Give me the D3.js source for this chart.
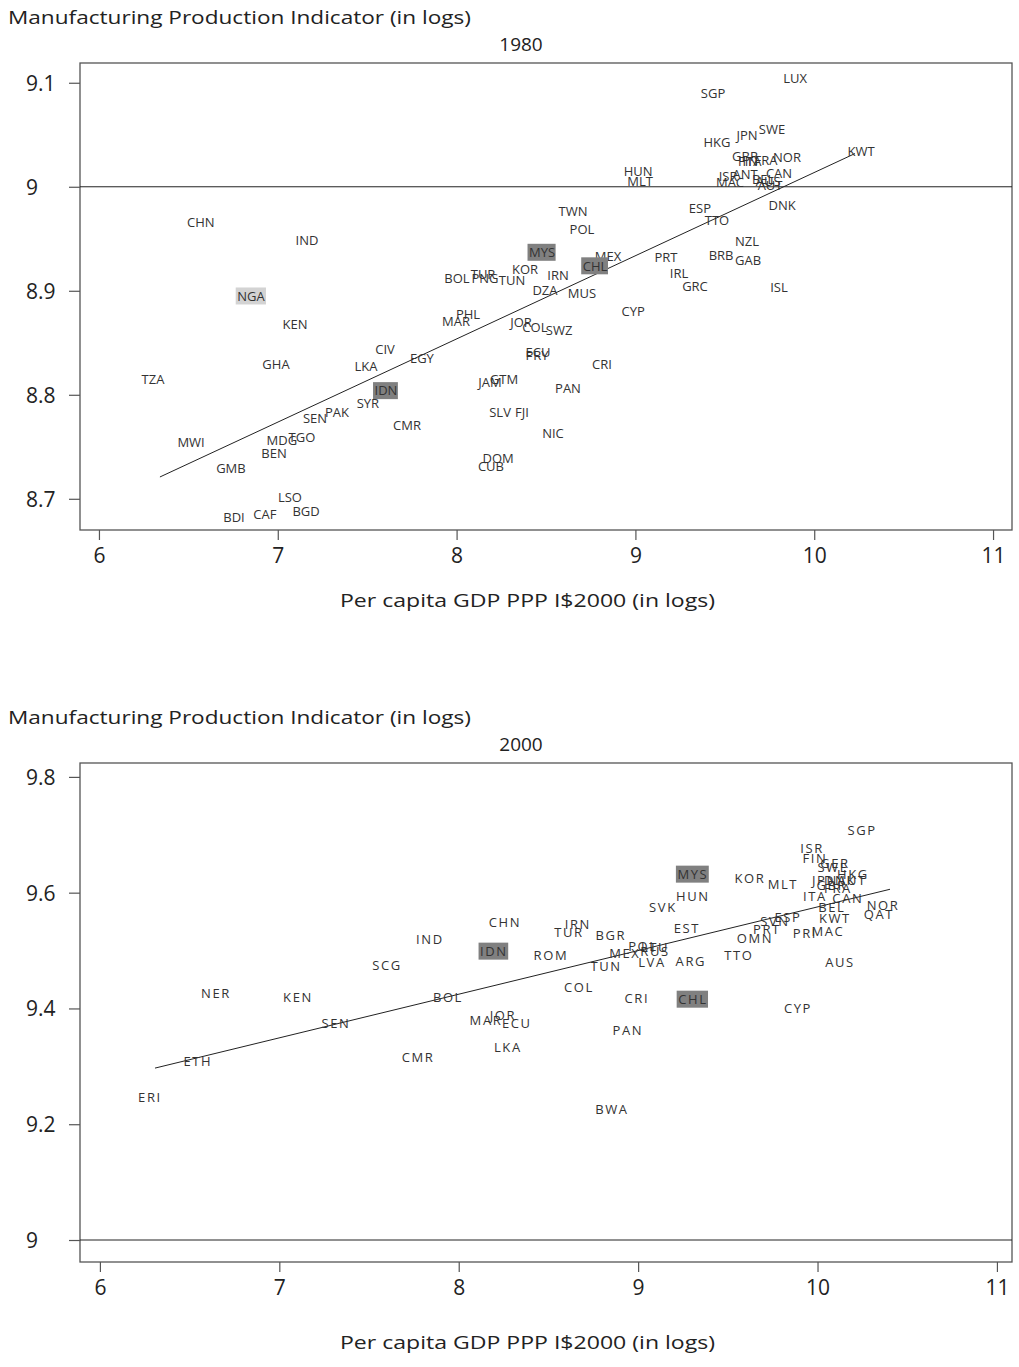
<!DOCTYPE html>
<html>
<head>
<meta charset="utf-8">
<script src="https://cdn.jsdelivr.net/npm/d3@7"></script>
<style>
  body { margin: 0; background: #fff; }
  svg { display: block; }
  .tick text { font-family: "Open Sans", sans-serif; font-size: 21px; fill: #222; }
  .code { font-family: "Open Sans", sans-serif; font-size: 13px; fill: #333; }
  .title { font-family: "Open Sans", sans-serif; font-size: 19px; fill: #222; }
</style>
</head>
<body>
<svg id="chart" width="1019" height="1367"></svg>
<script>
// [country, per capita GDP (log), manufacturing production indicator (log)]
const rows1980 = [
  ["LUX", 9.893, 9.104], ["SGP", 9.434, 9.090], ["HKG", 9.456, 9.043], ["JPN", 9.624, 9.049],
  ["SWE", 9.764, 9.055], ["GBR", 9.613, 9.029], ["FIN", 9.630, 9.024], ["ITA", 9.652, 9.024],
  ["FRA", 9.730, 9.025], ["NOR", 9.848, 9.028], ["KWT", 10.262, 9.034], ["HUN", 9.015, 9.015],
  ["MLT", 9.026, 9.005], ["ISR", 9.518, 9.010], ["ANT", 9.613, 9.012], ["CAN", 9.803, 9.013],
  ["MAC", 9.529, 9.004], ["BEL", 9.714, 9.007], ["AUS", 9.742, 9.005], ["AUT", 9.753, 9.001],
  ["DNK", 9.820, 8.982], ["ESP", 9.361, 8.979], ["TTO", 9.456, 8.968], ["NZL", 9.624, 8.948],
  ["BRB", 9.479, 8.934], ["GAB", 9.630, 8.929], ["ISL", 9.803, 8.903], ["PRT", 9.171, 8.932],
  ["IRL", 9.244, 8.917], ["GRC", 9.333, 8.904], ["CYP", 8.987, 8.880], ["TWN", 8.651, 8.976],
  ["POL", 8.701, 8.959], ["MYS", 8.478, 8.937], ["MEX", 8.847, 8.933], ["CHL", 8.774, 8.924],
  ["KOR", 8.383, 8.921], ["IRN", 8.567, 8.915], ["TUR", 8.148, 8.916], ["BOL", 8.002, 8.912],
  ["PNG", 8.159, 8.912], ["TUN", 8.310, 8.910], ["DZA", 8.494, 8.900], ["MUS", 8.701, 8.898],
  ["PHL", 8.064, 8.877], ["MAR", 7.997, 8.871], ["JOR", 8.360, 8.870], ["COL", 8.438, 8.865],
  ["SWZ", 8.573, 8.862], ["ECU", 8.455, 8.841], ["PRY", 8.450, 8.838], ["CRI", 8.813, 8.829],
  ["JAM", 8.187, 8.812], ["GTM", 8.265, 8.815], ["PAN", 8.623, 8.806], ["SLV", 8.243, 8.783],
  ["FJI", 8.366, 8.783], ["NIC", 8.539, 8.763], ["DOM", 8.232, 8.739], ["CUB", 8.192, 8.731],
  ["CHN", 6.570, 8.966], ["IND", 7.163, 8.949], ["NGA", 6.850, 8.895], ["KEN", 7.096, 8.868],
  ["CIV", 7.600, 8.844], ["EGY", 7.806, 8.835], ["LKA", 7.493, 8.827], ["GHA", 6.990, 8.829],
  ["TZA", 6.302, 8.815], ["IDN", 7.605, 8.804], ["SYR", 7.504, 8.792], ["PAK", 7.331, 8.783],
  ["SEN", 7.208, 8.777], ["CMR", 7.723, 8.771], ["MDG", 7.023, 8.756], ["TGO", 7.135, 8.759],
  ["MWI", 6.515, 8.754], ["BEN", 6.979, 8.744], ["GMB", 6.738, 8.729], ["LSO", 7.068, 8.701],
  ["BGD", 7.158, 8.688], ["CAF", 6.928, 8.685], ["BDI", 6.755, 8.682]
];

const rows2000 = [
  ["SGP", 10.248, 9.708], ["ISR", 9.969, 9.677], ["FIN", 9.986, 9.660], ["GER", 10.097, 9.651],
  ["SWE", 10.086, 9.643], ["HKG", 10.197, 9.631], ["JPN", 10.041, 9.622], ["DNK", 10.125, 9.622],
  ["AUT", 10.192, 9.622], ["GBR", 10.080, 9.612], ["FRA", 10.114, 9.608], ["ITA", 9.986, 9.594],
  ["CAN", 10.169, 9.591], ["NOR", 10.365, 9.579], ["QAT", 10.342, 9.562], ["BEL", 10.080, 9.574],
  ["KWT", 10.097, 9.555], ["ESP", 9.835, 9.558], ["SVN", 9.763, 9.551], ["PRT", 9.718, 9.536],
  ["PRI", 9.930, 9.529], ["MAC", 10.058, 9.534], ["OMN", 9.651, 9.522], ["TTO", 9.562, 9.491],
  ["AUS", 10.125, 9.480], ["KOR", 9.623, 9.624], ["MLT", 9.807, 9.615], ["MYS", 9.305, 9.632],
  ["HUN", 9.305, 9.593], ["SVK", 9.138, 9.575], ["EST", 9.272, 9.539], ["CYP", 9.891, 9.401],
  ["CHN", 8.258, 9.548], ["IND", 7.839, 9.520], ["IDN", 8.196, 9.499], ["SCG", 7.600, 9.475],
  ["IRN", 8.664, 9.546], ["TUR", 8.614, 9.532], ["BGR", 8.848, 9.527], ["ROM", 8.514, 9.491],
  ["POL", 9.027, 9.508], ["LTU", 9.094, 9.506], ["MEX", 8.926, 9.496], ["RUS", 9.094, 9.499],
  ["LVA", 9.077, 9.480], ["ARG", 9.294, 9.482], ["TUN", 8.821, 9.472], ["COL", 8.670, 9.437],
  ["CRI", 8.993, 9.418], ["CHL", 9.305, 9.416], ["BOL", 7.940, 9.420], ["JOR", 8.246, 9.389],
  ["MAR", 8.152, 9.380], ["ECU", 8.324, 9.375], ["PAN", 8.943, 9.363], ["LKA", 8.274, 9.333],
  ["BWA", 8.854, 9.226], ["NER", 6.647, 9.427], ["KEN", 7.104, 9.420], ["SEN", 7.316, 9.375],
  ["CMR", 7.773, 9.316], ["ETH", 6.546, 9.308], ["ERI", 6.279, 9.247]
];

const xTicks = [6, 7, 8, 9, 10, 11];
const yTicks1980 = [8.7, 8.8, 8.9, 9, 9.1];
const yTicks2000 = [9, 9.2, 9.4, 9.6, 9.8];

// fitted line: [x start, x end, intercept, slope]
const fit1980 = [6.341, 10.228, 8.2137, 0.0800];
const fit2000 = [6.307, 10.404, 8.8214, 0.0754];

const darkMark1980 = ["MYS", "CHL", "IDN"];
const lightMark1980 = ["NGA"];
const darkMark2000 = ["MYS", "IDN", "CHL"];
const lightMark2000 = [];

const yTitle = "Manufacturing Production Indicator (in logs)";
const xTitle = "Per capita GDP PPP I$2000 (in logs)";

const svg = d3.select("#chart");

function panel(opt) {
  const x = d3.scaleLinear().domain(opt.xDomain).range([opt.left, opt.right]);
  const y = d3.scaleLinear().domain(opt.yDomain).range([opt.bottom, opt.top]);
  const g = svg.append("g");

  g.append("text")
    .attr("class", "title")
    .attr("x", 8).attr("y", opt.top - 39)
    .attr("textLength", 463).attr("lengthAdjust", "spacingAndGlyphs")
    .text(yTitle);

  g.append("text")
    .attr("class", "title")
    .attr("x", 521).attr("y", opt.top - 12)
    .attr("text-anchor", "middle")
    .text(opt.year);

  g.append("rect")
    .attr("x", opt.left).attr("y", opt.top)
    .attr("width", opt.right - opt.left).attr("height", opt.bottom - opt.top)
    .attr("fill", "none").attr("stroke", "#555").attr("stroke-width", 1.3);

  // y axis
  const ya = g.append("g")
    .attr("transform", `translate(${opt.left},0)`)
    .call(d3.axisLeft(y).tickValues(opt.yTicks).tickSize(11).tickFormat(d3.format("")));
  ya.select(".domain").remove();
  ya.selectAll(".tick line").attr("stroke", "#555").attr("stroke-width", 1.2);
  ya.selectAll(".tick text").attr("x", 26 - opt.left).attr("text-anchor", "start").attr("dy", "0.35em");

  // x axis
  const xa = g.append("g")
    .attr("transform", `translate(0,${opt.bottom})`)
    .call(d3.axisBottom(x).tickValues(xTicks).tickSize(10).tickPadding(8).tickFormat(d3.format("")));
  xa.select(".domain").remove();
  xa.selectAll(".tick line").attr("stroke", "#555").attr("stroke-width", 1.2);

  g.append("text")
    .attr("class", "title")
    .attr("x", 340).attr("y", opt.xTitleY)
    .attr("textLength", 375).attr("lengthAdjust", "spacingAndGlyphs")
    .text(xTitle);

  // reference line at 9
  g.append("line")
    .attr("x1", opt.left).attr("x2", opt.right)
    .attr("y1", y(9)).attr("y2", y(9))
    .attr("stroke", "#222").attr("stroke-width", 1);

  // fitted line
  const f = opt.fit;
  g.append("line")
    .attr("x1", x(f[0])).attr("y1", y(f[2] + f[3] * f[0]))
    .attr("x2", x(f[1])).attr("y2", y(f[2] + f[3] * f[1]))
    .attr("stroke", "#222").attr("stroke-width", 1);

  // country labels
  const labels = g.append("g");
  const nodes = labels.selectAll("g").data(opt.rows).join("g")
    .attr("transform", d => `translate(${x(d[1])},${y(d[2])})`);
  nodes.append("text")
    .attr("class", "code")
    .attr("text-anchor", "middle")
    .attr("dy", "0.36em")
    .style("letter-spacing", opt.spacing + "px")
    .text(d => d[0]);
  nodes.filter(d => opt.dark.includes(d[0]) || opt.light.includes(d[0]))
    .each(function(d) {
      const t = d3.select(this).select("text");
      const b = t.node().getBBox();
      d3.select(this).insert("rect", "text")
        .attr("x", b.x - 1.5).attr("y", -8.5)
        .attr("width", b.width + 2).attr("height", 17)
        .attr("fill", opt.dark.includes(d[0]) ? "#808080" : "#d3d3d3");
    });
}

panel({
  year: "1980", rows: rows1980, fit: fit1980,
  left: 80, right: 1012, top: 63, bottom: 530,
  xDomain: [5.894, 11.106], yDomain: [8.670, 9.119],
  yTicks: yTicks1980, xTitleY: 607, spacing: 0,
  dark: darkMark1980, light: lightMark1980
});

panel({
  year: "2000", rows: rows2000, fit: fit2000,
  left: 80, right: 1012, top: 763, bottom: 1262,
  xDomain: [5.889, 11.084], yDomain: [8.962, 9.824],
  yTicks: yTicks2000, xTitleY: 1349, spacing: 1.6,
  dark: darkMark2000, light: lightMark2000
});
</script>
</body>
</html>
